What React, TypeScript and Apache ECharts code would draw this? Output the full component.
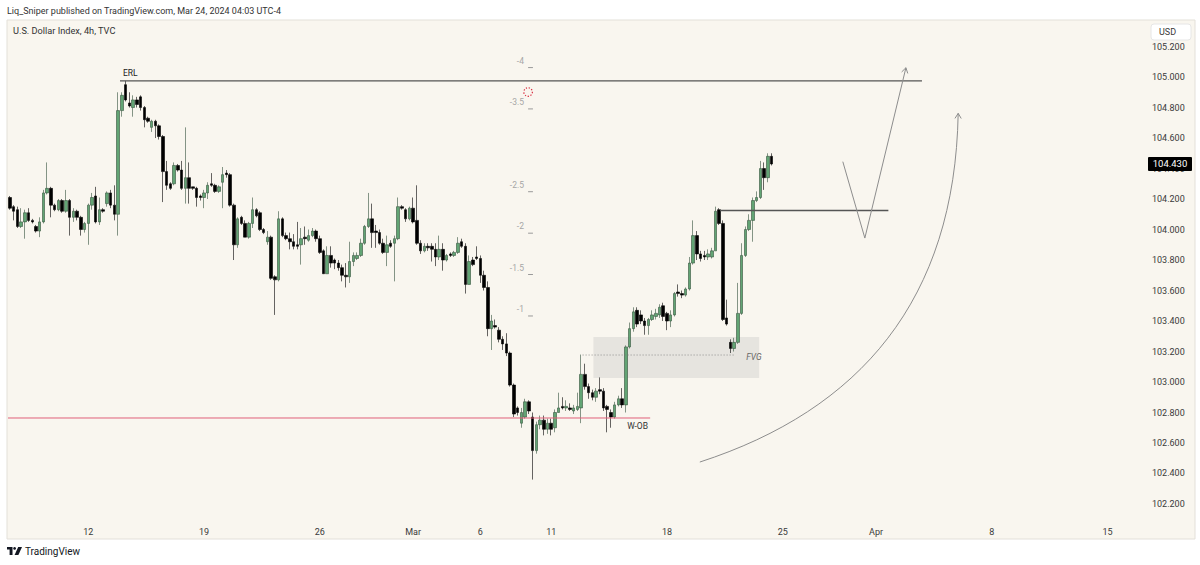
import { useEffect, useRef } from 'react';
import * as echarts from 'echarts';

const FONT = "Roboto, 'DejaVu Sans', sans-serif";
const TEXT = '#3a3a3a';

// 4h candles, U.S. Dollar Index (TVC)
const opens = [
  104.21, 104.15, 104.13, 104.02, 104.05, 104.11, 104.06, 104.02, 103.99, 104.05, 104.24, 104.27, 104.16, 104.13, 104.19, 104.12, 104.19, 104.08, 104.12, 104.08, 104.00, 104.04, 104.16, 104.22, 104.05, 104.13, 104.17, 104.24, 104.16, 104.10, 104.78, 104.95, 104.83,
  104.80, 104.85, 104.87, 104.80, 104.73, 104.67, 104.71, 104.68, 104.61, 104.38, 104.30, 104.30, 104.42, 104.39, 104.27, 104.34, 104.28, 104.27, 104.22, 104.21, 104.24, 104.30, 104.29, 104.25, 104.31, 104.37, 104.36, 104.16, 103.90, 104.08, 104.04, 103.95, 104.04, 104.13, 104.11, 104.00,
  103.92, 103.95, 103.69, 103.67, 104.07, 103.96, 103.94, 103.92, 103.90, 103.90, 103.95, 103.93, 103.96, 103.99, 103.94, 103.86, 103.71, 103.83, 103.80, 103.78, 103.75, 103.70, 103.69, 103.79, 103.81, 103.83, 103.91, 104.02, 104.07, 103.99, 103.98, 103.91, 103.85, 103.91,
  103.91, 103.94, 104.15, 104.13, 104.07, 104.14, 104.06, 103.91, 103.86, 103.89, 103.89, 103.87, 103.82, 103.87, 103.80, 103.84, 103.83, 103.85, 103.92, 103.89, 103.64, 103.80, 103.82, 103.81, 103.70, 103.62, 103.35, 103.37, 103.34, 103.28, 103.25, 103.19, 102.98,
  102.83, 102.73, 102.77, 102.87, 102.77, 102.55, 102.72, 102.75, 102.69, 102.73, 102.70, 102.80, 102.84, 102.83, 102.83, 102.81, 102.82, 102.83, 103.05, 102.97, 102.93, 102.90, 102.95, 102.94, 102.84, 102.80, 102.77, 102.85, 102.89, 102.85, 103.23, 103.35, 103.47, 103.44,
  103.40, 103.37, 103.41, 103.43, 103.44, 103.50, 103.45, 103.40, 103.44, 103.59, 103.58, 103.57, 103.61, 103.78, 103.96, 103.84, 103.83, 103.82, 103.82, 103.86, 104.13, 104.04, 103.42, 103.26, 103.22, 103.26, 103.45, 103.83, 104.00, 104.06, 104.19, 104.21, 104.40, 104.34, 104.48,
];
const highs = [
  104.22, 104.16, 104.15, 104.14, 104.13, 104.14, 104.07, 104.03, 104.08, 104.26, 104.44, 104.28, 104.17, 104.20, 104.20, 104.26, 104.20, 104.14, 104.13, 104.09, 104.05, 104.17, 104.24, 104.28, 104.21, 104.14, 104.25, 104.26, 104.29, 104.90, 104.90, 104.975, 104.90,
  104.88, 104.87, 104.88, 104.81, 104.74, 104.72, 104.72, 104.69, 104.62, 104.45, 104.31, 104.44, 104.43, 104.45, 104.67, 104.44, 104.28, 104.28, 104.23, 104.26, 104.31, 104.37, 104.30, 104.29, 104.41, 104.39, 104.37, 104.17, 104.08, 104.09, 104.06, 104.05, 104.21, 104.14, 104.12, 104.01,
  103.99, 103.96, 103.70, 104.12, 104.08, 103.98, 103.98, 103.97, 104.05, 104.01, 104.02, 104.00, 104.01, 104.00, 103.96, 103.87, 103.89, 103.89, 103.81, 103.80, 103.77, 103.78, 103.92, 103.85, 103.85, 103.94, 104.03, 104.24, 104.17, 104.03, 104.00, 103.94, 103.96, 103.93,
  103.96, 104.21, 104.16, 104.14, 104.15, 104.21, 104.29, 103.93, 103.91, 103.91, 103.91, 103.91, 103.96, 103.91, 103.84, 103.85, 103.86, 103.95, 103.94, 103.91, 103.83, 103.82, 103.89, 103.83, 103.73, 103.66, 103.44, 103.41, 103.36, 103.30, 103.32, 103.20, 102.99,
  102.84, 102.83, 102.89, 102.88, 102.80, 102.74, 102.78, 102.78, 102.76, 102.76, 102.82, 102.93, 102.90, 102.88, 102.86, 102.85, 102.93, 103.18, 103.12, 102.99, 102.95, 102.96, 103.03, 102.96, 102.85, 102.82, 102.87, 102.91, 102.96, 103.24, 103.39, 103.49, 103.49, 103.47,
  103.42, 103.42, 103.47, 103.48, 103.51, 103.52, 103.46, 103.47, 103.59, 103.64, 103.60, 103.62, 103.82, 104.06, 103.99, 103.86, 103.86, 103.87, 103.88, 104.15, 104.14, 104.06, 103.54, 103.28, 103.29, 103.65, 103.91, 104.02, 104.10, 104.21, 104.25, 104.45, 104.44, 104.50, 104.50,
];
const lows = [
  104.13, 104.06, 104.01, 104.01, 103.94, 104.05, 104.04, 103.98, 103.95, 104.04, 104.23, 104.08, 104.12, 104.12, 104.11, 104.11, 103.96, 104.05, 104.06, 103.96, 103.98, 103.90, 104.13, 104.04, 104.03, 104.11, 104.15, 104.14, 104.06, 103.96, 104.74, 104.84, 104.80,
  104.74, 104.80, 104.78, 104.67, 104.70, 104.64, 104.60, 104.59, 104.18, 104.26, 104.26, 104.29, 104.38, 104.26, 104.17, 104.17, 104.26, 104.15, 104.19, 104.14, 104.20, 104.28, 104.24, 104.24, 104.14, 104.34, 104.15, 103.80, 103.88, 104.03, 103.95, 103.94, 104.01, 104.08, 103.99, 103.97,
  103.90, 103.67, 103.44, 103.66, 103.95, 103.93, 103.87, 103.87, 103.87, 103.77, 103.90, 103.92, 103.95, 103.92, 103.84, 103.71, 103.71, 103.75, 103.74, 103.73, 103.66, 103.62, 103.65, 103.76, 103.80, 103.82, 103.90, 104.01, 103.88, 103.88, 103.90, 103.84, 103.76, 103.88,
  103.66, 103.93, 104.13, 104.05, 104.06, 104.04, 103.90, 103.84, 103.85, 103.86, 103.79, 103.76, 103.80, 103.73, 103.79, 103.82, 103.82, 103.84, 103.88, 103.58, 103.64, 103.76, 103.80, 103.65, 103.60, 103.30, 103.21, 103.35, 103.26, 103.21, 103.17, 102.97, 102.77,
  102.78, 102.70, 102.76, 102.79, 102.36, 102.53, 102.69, 102.65, 102.66, 102.65, 102.67, 102.80, 102.82, 102.81, 102.81, 102.79, 102.81, 102.73, 102.95, 102.89, 102.88, 102.87, 102.92, 102.81, 102.67, 102.70, 102.76, 102.84, 102.83, 102.80, 103.22, 103.33, 103.36, 103.38,
  103.31, 103.31, 103.40, 103.41, 103.42, 103.40, 103.34, 103.36, 103.43, 103.56, 103.55, 103.56, 103.60, 103.77, 103.80, 103.79, 103.80, 103.80, 103.81, 103.86, 104.03, 103.40, 103.37, 103.19, 103.20, 103.25, 103.44, 103.82, 103.99, 103.92, 104.18, 104.20, 104.26, 104.31, 104.42,
];
const closes = [
  104.14, 104.12, 104.02, 104.05, 104.11, 104.06, 104.05, 103.99, 104.05, 104.24, 104.27, 104.16, 104.13, 104.19, 104.12, 104.19, 104.08, 104.12, 104.08, 104.00, 104.04, 104.16, 104.21, 104.05, 104.13, 104.12, 104.24, 104.16, 104.10, 104.78, 104.88, 104.85, 104.81,
  104.85, 104.82, 104.80, 104.72, 104.71, 104.71, 104.68, 104.61, 104.38, 104.29, 104.27, 104.42, 104.39, 104.27, 104.34, 104.27, 104.27, 104.21, 104.21, 104.24, 104.29, 104.29, 104.25, 104.28, 104.36, 104.36, 104.16, 103.90, 104.07, 104.04, 103.95, 104.04, 104.13, 104.09, 104.00, 103.98,
  103.95, 103.68, 103.67, 104.07, 103.96, 103.94, 103.92, 103.89, 103.89, 103.94, 103.94, 103.96, 103.99, 103.94, 103.85, 103.71, 103.83, 103.78, 103.78, 103.75, 103.70, 103.69, 103.79, 103.83, 103.83, 103.91, 104.02, 104.07, 103.98, 103.98, 103.91, 103.85, 103.90, 103.89,
  103.94, 104.15, 104.14, 104.07, 104.14, 104.05, 103.91, 103.86, 103.89, 103.88, 103.87, 103.82, 103.87, 103.80, 103.83, 103.83, 103.85, 103.91, 103.89, 103.64, 103.79, 103.77, 103.81, 103.70, 103.62, 103.35, 103.40, 103.36, 103.28, 103.25, 103.19, 102.98, 102.79,
  102.80, 102.80, 102.87, 102.81, 102.55, 102.72, 102.75, 102.69, 102.73, 102.69, 102.80, 102.83, 102.83, 102.84, 102.82, 102.83, 102.84, 103.05, 102.97, 102.93, 102.90, 102.94, 102.94, 102.83, 102.82, 102.77, 102.85, 102.89, 102.85, 103.23, 103.35, 103.46, 103.38, 103.40,
  103.37, 103.41, 103.44, 103.45, 103.49, 103.43, 103.40, 103.44, 103.58, 103.58, 103.57, 103.61, 103.78, 103.96, 103.84, 103.81, 103.82, 103.84, 103.86, 104.12, 104.04, 103.41, 103.38, 103.22, 103.26, 103.45, 103.83, 104.00, 104.06, 104.19, 104.21, 104.40, 104.34, 104.48, 104.43,
];

// time axis: 4h slots (history + empty future), labels at the first slot of each marked day
const TOTAL_SLOTS = 304;
const tickIndex = [21, 52, 83, 108, 126, 145, 176, 207, 232, 263, 294];
const tickLabels = ['12', '19', '26', 'Mar', '6', '11', '18', '25', 'Apr', '8', '15'];

// price axis
const Y_MIN = 102.095;
const Y_MAX = 105.361;
const priceTicks = [102.2, 102.4, 102.6, 102.8, 103.0, 103.2, 103.4, 103.6, 103.8, 104.0, 104.2, 104.4, 104.6, 104.8, 105.0, 105.2];

// drawings (slot index, price)
const erlLevel = 104.975;
const erlSpan = [29.5, 244.3];
const wobLevel = 102.764;
const wobSpan = [-0.5, 171.5];
const fvgTop = 103.295;
const fvgBottom = 103.026;
const fvgSpan = [156.3, 200.7];
const fvgMidLevel = 103.177;
const fvgMidSpan = [153.4, 194.0];
const bslLevel = 104.125;
const bslSpan = [190.2, 235.3];
const zigzag = [[223.1, 104.445], [229.0, 103.944], [240.0, 105.061]];
const curve = [[184.8, 102.475], [227.7, 102.816], [253.1, 103.538], [254.0, 104.762]];
const fibLevels = ['-1', '-1.5', '-2', '-2.5', '-3.5', '-4'];
const fibPrices = [103.433, 103.705, 103.976, 104.248, 104.791, 105.062];
const fibSlot = 137.7;
const fibTickSpan = [138.8, 140.1];
const markerPoint = [138.8, 104.902];

export default function App() {
  const ref = useRef<HTMLDivElement>(null);

  useEffect(() => {
    const el = ref.current as HTMLDivElement;
    const chart = echarts.init(el, undefined, { renderer: 'svg' });
    const categories = Array.from({ length: TOTAL_SLOTS }, (_, i) => 's' + i);
    const labelAt: Record<number, string> = {};
    tickIndex.forEach((ix, k) => { labelAt[ix] = tickLabels[k]; });
    const candles = opens.map((o, i) => [o, closes[i], lows[i], highs[i]]);

    chart.setOption({
      animation: false,
      backgroundColor: '#ffffff',
      grid: { left: 8, right: 57, top: 22, bottom: 45, outerBoundsMode: 'none' },
      xAxis: [
        {
          type: 'category', data: categories, boundaryGap: true, z: 3,
          axisLine: { show: false }, axisTick: { show: false }, splitLine: { show: false },
          axisLabel: {
            interval: (i: number) => labelAt[i] !== undefined,
            formatter: (_v: string, i: number) => labelAt[i] ?? '',
            color: TEXT, fontSize: 9, fontFamily: FONT, margin: 7,
          },
        },
        { type: 'value', min: -0.5, max: TOTAL_SLOTS - 0.5, show: false },
      ],
      yAxis: {
        type: 'value', position: 'right', min: Y_MIN, max: Y_MAX, z: 3,
        splitLine: { show: false }, axisLine: { show: false }, axisTick: { show: false },
        axisLabel: {
          customValues: priceTicks,
          formatter: (v: number) => v.toFixed(3),
          color: TEXT, fontSize: 9, fontFamily: FONT, margin: 9,
        },
      },
      series: [
        {
          type: 'candlestick', data: candles, barWidth: 3, z: 2,
          itemStyle: {
            color: '#62a474', color0: '#000000',
            borderColor: '#34523c', borderColor0: '#000000', borderWidth: 0.6,
          },
        },
      ],
    });

    const X = (i: number) => chart.convertToPixel({ xAxisIndex: 1 }, i) as number;
    const Y = (p: number) => chart.convertToPixel({ yAxisIndex: 0 }, p) as number;
    const font = (s: number, extra = '') => `${extra}${s}px ${FONT}`;
    const hline = (lvl: number, span: number[], stroke: string, w: number, dash?: number[]) => ({
      type: 'line', z: 6,
      shape: { x1: X(span[0]), y1: Y(lvl), x2: X(span[1]), y2: Y(lvl) },
      style: { stroke, lineWidth: w, lineDash: dash },
    });
    const arrow = (tx: number, ty: number, fx: number, fy: number) => {
      const a = Math.atan2(ty - fy, tx - fx);
      const len = 6, sp = 0.55;
      return {
        type: 'polyline', z: 6,
        shape: { points: [[tx - len * Math.cos(a - sp), ty - len * Math.sin(a - sp)], [tx, ty], [tx - len * Math.cos(a + sp), ty - len * Math.sin(a + sp)]] },
        style: { stroke: '#8d8d8d', lineWidth: 1, fill: 'none' },
      };
    };
    const text = (t: string, x: number, y: number, size: number, fill: string, align = 'left', extra = '', z = 7) => ({
      type: 'text', z, x, y,
      style: { text: t, fill, font: font(size, extra), align, verticalAlign: 'middle' },
    });

    const zz = zigzag.map(([i, p]) => [X(i), Y(p)]);
    const cv = curve.map(([i, p]) => [X(i), Y(p)]);
    const lastY = Y(closes[closes.length - 1]);

    const elements: any[] = [
      // panel
      { type: 'rect', z: -5, shape: { x: 7, y: 20, width: 1188, height: 519 }, style: { fill: '#f9f6ef', stroke: '#e3e0d9', lineWidth: 1 } },
      // FVG zone
      { type: 'rect', z: 1, shape: { x: X(fvgSpan[0]), y: Y(fvgTop), width: X(fvgSpan[1]) - X(fvgSpan[0]), height: Y(fvgBottom) - Y(fvgTop) }, style: { fill: '#e6e4df' } },
      hline(fvgMidLevel, fvgMidSpan, '#777777', 0.8, [1, 2]),
      text('FVG', X(fvgSpan[1]) - 13, Y(fvgMidLevel) + 2, 8.5, '#666666', 'left', 'italic '),
      hline(erlLevel, erlSpan, '#555555', 1.4),
      text('ERL', X(erlSpan[0]) + 3, Y(erlLevel) - 8, 8.5, '#222222'),
      hline(wobLevel, wobSpan, '#e0607a', 1),
      text('W-OB', X(wobSpan[1]) - 23, Y(wobLevel) + 8, 8.5, '#333333'),
      hline(bslLevel, bslSpan, '#555555', 1.4),
      // zigzag arrow
      { type: 'polyline', z: 6, shape: { points: zz }, style: { stroke: '#8d8d8d', lineWidth: 1, fill: 'none' } },
      arrow(zz[2][0], zz[2][1], zz[1][0], zz[1][1]),
      // curved arrow
      { type: 'bezierCurve', z: 6, shape: { x1: cv[0][0], y1: cv[0][1], cpx1: cv[1][0], cpy1: cv[1][1], cpx2: cv[2][0], cpy2: cv[2][1], x2: cv[3][0], y2: cv[3][1] }, style: { stroke: '#8d8d8d', lineWidth: 1, fill: 'none' } },
      arrow(cv[3][0], cv[3][1], cv[2][0], cv[2][1]),
      // marker
      { type: 'circle', z: 6, shape: { cx: X(markerPoint[0]), cy: Y(markerPoint[1]), r: 4.3 }, style: { stroke: '#d8283c', lineWidth: 1.2, lineDash: [1.3, 1.6], fill: 'none' } },
    ];
    fibLevels.forEach((lab, k) => {
      const y = Y(fibPrices[k]);
      elements.push({ type: 'line', z: 6, shape: { x1: X(fibTickSpan[0]), y1: y, x2: X(fibTickSpan[1]), y2: y }, style: { stroke: '#9a9a9a', lineWidth: 1 } });
      elements.push(text(lab, X(fibSlot), y - 7, 8.5, '#a6a6a6', 'right'));
    });
    elements.push(
      // current price box
      { type: 'rect', z: 8, shape: { x: 1148, y: lastY - 7, width: 44, height: 14, r: 1 }, style: { fill: '#000000' } },
      text(closes[closes.length - 1].toFixed(3), 1170, lastY, 9.5, '#ffffff', 'center', '', 9),
      // currency box
      { type: 'rect', z: 8, shape: { x: 1151, y: 24, width: 40, height: 16, r: 3 }, style: { fill: '#ffffff', stroke: '#e6e6e6', lineWidth: 1 } },
      text('USD', 1159, 32, 9, TEXT, 'left', '', 9),
      // header and title
      text('Liq_Sniper published on TradingView.com, Mar 24, 2024 04:03 UTC-4', 7, 11, 9, '#333333'),
      text('U.S. Dollar Index, 4h, TVC', 13, 30, 9.2, '#333333'),
      // TradingView logo
      { type: 'polygon', z: 8, shape: { points: [[7, 547], [12.5, 547], [12.5, 555], [9.6, 555], [9.6, 549.6], [7, 549.6]] }, style: { fill: '#131722' } },
      { type: 'circle', z: 8, shape: { cx: 14.6, cy: 548.4, r: 1.4 }, style: { fill: '#131722' } },
      { type: 'polygon', z: 8, shape: { points: [[18.2, 547], [22, 547], [18.4, 555], [14.6, 555]] }, style: { fill: '#131722' } },
      text('TradingView', 25, 551.5, 10, '#131722'),
    );
    chart.setOption({ graphic: { elements } });

    return () => chart.dispose();
  }, []);

  return <div ref={ref} style={{ position: 'absolute', left: 0, top: 0, width: 1200, height: 565 }} />;
}
